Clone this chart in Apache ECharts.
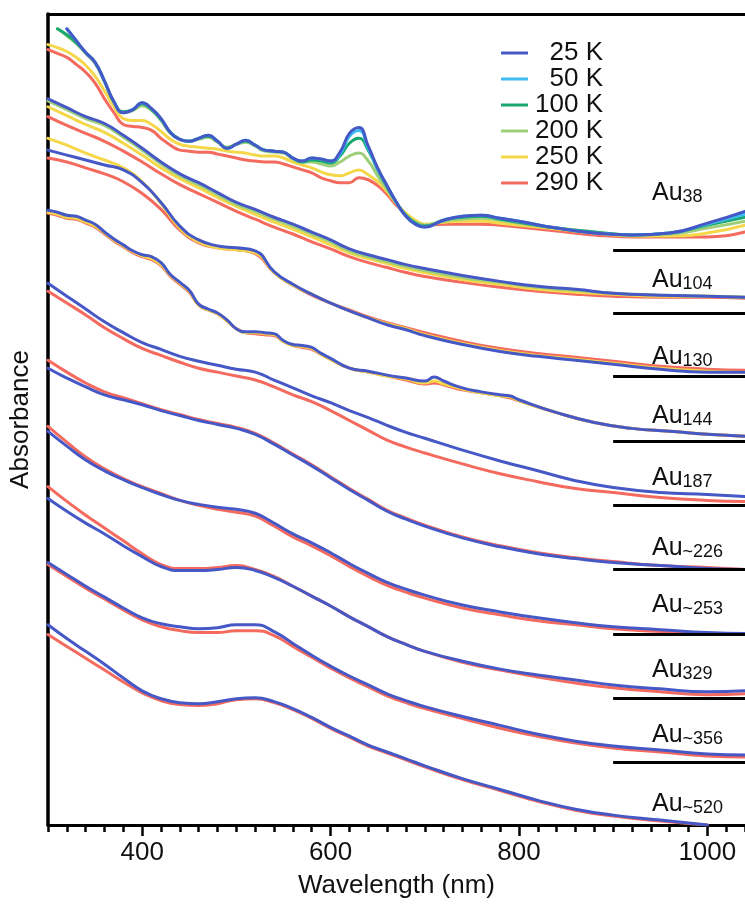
<!DOCTYPE html>
<html>
<head>
<meta charset="utf-8">
<script src="https://cdn.jsdelivr.net/npm/echarts@6/dist/echarts.min.js"></script>
<style>
  html, body { margin: 0; padding: 0; background: #fff; }
  #chart { width: 745px; height: 904px; }
</style>
</head>
<body>
<div id="chart"></div>
<script>
// wavelengths (nm)
var wlAu38 = [300,310,320,330,340,350,360,370,380,390,400,410,420,430,440,450,460,470,480,490,500,510,520,530,540,550,560,570,580,590,600,610,620,630,640,650,660,670,680,690,700,720,740,760,780,800,840,880,920,960,1000,1040];
var wlAu144 = [300,310,320,330,340,350,360,370,380,390,400,410,420,430,440,450,460,470,480,490,500,510,520,530,540,550,560,570,580,590,600,620,640,660,680,700,710,720,740,760,780,790,800,840,880,920,960,1000,1040];
var wlCommon = [300,320,340,360,380,400,420,440,460,480,500,520,540,560,580,600,620,640,660,680,700,740,780,820,860,900,950,1000,1040];

// absorbance (offset, a.u.)
var au38K25  = [null,null,8.07,7.95,7.83,7.73,7.54,7.33,7.22,7.25,7.32,7.26,7.16,7.02,6.95,6.93,6.96,6.99,6.93,6.86,6.90,6.94,6.89,6.84,6.83,6.82,6.76,6.73,6.76,6.75,6.73,6.82,7.01,7.07,6.88,6.66,6.48,6.31,6.17,6.09,6.06,6.13,6.17,6.18,6.15,6.12,6.05,6.00,5.98,6.00,6.10,6.22];
var au38K50  = [null,null,8.07,7.95,7.83,7.73,7.54,7.33,7.22,7.25,7.32,7.26,7.16,7.02,6.95,6.93,6.96,6.99,6.93,6.86,6.90,6.94,6.89,6.84,6.83,6.82,6.76,6.73,6.76,6.75,6.73,6.80,6.98,7.04,6.86,6.65,6.48,6.31,6.17,6.09,6.06,6.13,6.17,6.18,6.15,6.12,6.05,6.00,5.98,6.00,6.09,6.19];
var au38K100 = [null,8.07,8.01,7.93,7.83,7.73,7.54,7.33,7.23,7.25,7.31,7.25,7.15,7.02,6.95,6.93,6.96,6.98,6.93,6.86,6.90,6.93,6.89,6.84,6.83,6.82,6.76,6.72,6.74,6.73,6.71,6.78,6.91,6.96,6.84,6.64,6.47,6.31,6.18,6.10,6.07,6.13,6.16,6.17,6.14,6.11,6.05,6.01,5.98,6.00,6.08,6.16];
var au38K200 = [null,8.07,8.00,7.92,7.82,7.72,7.53,7.32,7.22,7.24,7.29,7.24,7.14,7.01,6.95,6.93,6.95,6.97,6.92,6.87,6.90,6.92,6.88,6.83,6.82,6.81,6.75,6.72,6.72,6.70,6.68,6.72,6.78,6.81,6.73,6.58,6.44,6.30,6.18,6.11,6.08,6.12,6.14,6.15,6.13,6.10,6.05,6.01,5.98,5.99,6.05,6.12];
var au38K250 = [7.91,7.88,7.84,7.78,7.70,7.59,7.44,7.28,7.16,7.14,7.14,7.10,7.03,6.95,6.90,6.88,6.87,6.86,6.85,6.83,6.82,6.81,6.79,6.78,6.78,6.76,6.72,6.69,6.66,6.62,6.59,6.58,6.61,6.64,6.59,6.52,6.42,6.30,6.20,6.13,6.09,6.11,6.12,6.12,6.10,6.08,6.04,6.00,5.97,5.97,6.00,6.08];
var au38K290 = [7.86,7.82,7.78,7.71,7.63,7.52,7.36,7.22,7.10,7.08,7.07,7.04,6.96,6.89,6.84,6.83,6.82,6.82,6.80,6.78,6.76,6.74,6.73,6.72,6.72,6.70,6.67,6.64,6.61,6.56,6.53,6.51,6.51,6.56,6.54,6.48,6.39,6.28,6.19,6.12,6.08,6.09,6.09,6.09,6.08,6.06,6.02,5.98,5.96,5.96,5.96,6.01];

var au104K25  = [7.36,7.27,7.18,7.11,6.99,6.86,6.72,6.60,6.51,6.41,6.31,6.24,6.16,6.09,6.01,5.93,5.84,5.78,5.73,5.68,5.64,5.57,5.51,5.46,5.43,5.39,5.37,5.36,5.35];
var au104K200 = [7.34,7.25,7.16,7.09,6.97,6.84,6.70,6.58,6.49,6.39,6.29,6.22,6.14,6.07,5.99,5.91,5.82,5.76,5.71,5.66,5.62,5.55,5.50,5.45,5.42,5.39,5.37,5.36,5.35];
var au104K250 = [7.28,7.19,7.10,7.02,6.91,6.79,6.66,6.55,6.46,6.36,6.27,6.19,6.11,6.04,5.96,5.88,5.80,5.74,5.69,5.64,5.60,5.53,5.48,5.43,5.40,5.38,5.36,5.36,5.35];
var au104K290 = [7.18,7.09,7.01,6.93,6.83,6.72,6.60,6.49,6.40,6.31,6.22,6.14,6.06,5.99,5.91,5.84,5.76,5.70,5.65,5.60,5.56,5.50,5.45,5.41,5.38,5.36,5.35,5.35,5.34];

var au130K25  = [6.84,6.79,6.74,6.69,6.64,6.51,6.31,6.07,5.93,5.87,5.85,5.82,5.61,5.48,5.38,5.29,5.21,5.14,5.07,5.02,4.96,4.87,4.80,4.75,4.71,4.67,4.62,4.59,4.59];
var au130K250 = [6.96,6.89,6.81,6.74,6.66,6.52,6.30,6.05,5.91,5.85,5.83,5.80,5.60,5.47,5.38,5.29,5.21,5.14,5.08,5.03,4.97,4.88,4.81,4.76,4.72,4.68,4.63,4.60,4.59];
var au130K290 = [6.76,6.72,6.66,6.60,6.52,6.40,6.24,6.03,5.90,5.85,5.83,5.79,5.60,5.47,5.37,5.29,5.22,5.15,5.09,5.04,4.99,4.90,4.83,4.78,4.74,4.70,4.65,4.62,4.61];

var au144K25  = [6.23,6.21,6.18,6.17,6.13,6.09,6.01,5.94,5.88,5.82,5.78,5.76,5.70,5.58,5.50,5.42,5.28,5.23,5.19,5.12,5.03,5.00,5.00,4.99,4.98,4.91,4.87,4.86,4.84,4.78,4.73,4.63,4.60,4.56,4.53,4.50,4.54,4.50,4.43,4.39,4.36,4.35,4.31,4.18,4.08,4.02,3.99,3.96,3.94];
var au144K250 = [6.21,6.19,6.16,6.15,6.11,6.07,6.00,5.93,5.87,5.81,5.77,5.74,5.68,5.57,5.49,5.41,5.27,5.22,5.18,5.11,5.03,4.99,4.99,4.98,4.97,4.90,4.86,4.85,4.83,4.77,4.72,4.63,4.59,4.55,4.52,4.48,4.50,4.47,4.42,4.38,4.35,4.34,4.30,4.18,4.08,4.02,3.99,3.96,3.94];
var au144K290 = [6.20,6.18,6.15,6.14,6.10,6.06,5.99,5.92,5.86,5.80,5.76,5.73,5.67,5.56,5.48,5.40,5.27,5.22,5.18,5.11,5.03,4.99,4.98,4.97,4.96,4.90,4.86,4.84,4.82,4.77,4.72,4.63,4.59,4.55,4.51,4.47,4.48,4.46,4.41,4.38,4.35,4.33,4.30,4.18,4.08,4.02,3.99,3.96,3.94];

var au187K25  = [5.49,5.36,5.23,5.10,4.99,4.89,4.82,4.75,4.70,4.66,4.62,4.59,4.51,4.43,4.35,4.28,4.20,4.13,4.05,3.98,3.92,3.80,3.69,3.59,3.49,3.42,3.37,3.35,3.33];
var au187K290 = [5.41,5.29,5.17,5.04,4.93,4.83,4.76,4.69,4.63,4.59,4.55,4.51,4.44,4.36,4.29,4.20,4.10,4.00,3.90,3.83,3.77,3.66,3.56,3.48,3.41,3.37,3.32,3.29,3.28];

var au226K25  = [4.63,4.53,4.44,4.36,4.31,4.26,4.20,4.15,4.10,4.06,4.02,3.96,3.86,3.75,3.64,3.52,3.40,3.29,3.18,3.10,3.03,2.91,2.82,2.75,2.70,2.66,2.63,2.60,2.59];
var au226K290 = [4.71,4.59,4.48,4.39,4.33,4.27,4.21,4.16,4.11,4.07,4.03,3.97,3.87,3.76,3.65,3.53,3.41,3.30,3.19,3.11,3.04,2.92,2.83,2.76,2.71,2.67,2.63,2.61,2.59];

var au253K25  = [3.99,3.84,3.70,3.59,3.50,3.42,3.35,3.29,3.25,3.22,3.20,3.16,3.06,2.95,2.86,2.76,2.65,2.55,2.46,2.39,2.33,2.23,2.16,2.10,2.05,2.01,1.98,1.95,1.94];
var au253K290 = [4.04,3.88,3.73,3.61,3.51,3.43,3.36,3.29,3.24,3.20,3.17,3.13,3.03,2.92,2.83,2.73,2.62,2.52,2.43,2.36,2.30,2.20,2.13,2.07,2.03,1.99,1.96,1.94,1.93];

var au329K25  = [3.31,3.18,3.06,2.95,2.83,2.72,2.62,2.58,2.58,2.59,2.61,2.58,2.51,2.42,2.32,2.22,2.11,2.01,1.91,1.83,1.76,1.66,1.58,1.52,1.47,1.42,1.38,1.35,1.36];
var au329K290 = [3.43,3.28,3.14,3.01,2.88,2.75,2.64,2.60,2.60,2.61,2.63,2.59,2.52,2.42,2.32,2.22,2.11,2.01,1.91,1.83,1.76,1.65,1.57,1.50,1.44,1.39,1.35,1.32,1.33];

var au356K25  = [2.66,2.54,2.42,2.31,2.20,2.10,2.04,2.01,1.99,2.00,2.03,2.03,1.96,1.84,1.72,1.61,1.51,1.42,1.33,1.26,1.20,1.10,1.01,0.92,0.85,0.80,0.76,0.72,0.71];
var au356K290 = [2.64,2.52,2.40,2.29,2.18,2.08,2.01,1.97,1.95,1.95,1.97,1.97,1.92,1.81,1.70,1.59,1.49,1.40,1.31,1.24,1.18,1.08,0.98,0.90,0.83,0.78,0.74,0.70,0.69];

var au520K25  = [2.03,1.89,1.76,1.63,1.49,1.36,1.28,1.24,1.23,1.25,1.28,1.29,1.25,1.18,1.09,0.99,0.90,0.81,0.74,0.67,0.60,0.47,0.36,0.25,0.16,0.10,0.05,0.00,null];
var au520K290 = [1.93,1.81,1.69,1.57,1.45,1.34,1.26,1.22,1.21,1.23,1.27,1.28,1.24,1.17,1.08,0.98,0.89,0.80,0.73,0.66,0.59,0.46,0.35,0.24,0.15,0.09,0.04,0.00,null];

// baseline marks and cluster names
var baseLines = [5.83, 5.19, 4.55, 3.89, 3.24, 2.59, 1.93, 1.28, 0.64];
var baseFrom = 900, baseTo = 1040;
var sizes = ['38', '104', '130', '144', '187', '~226', '~253', '329', '~356', '~520'];
var temps = ['25 K', '50 K', '100 K', '200 K', '250 K', '290 K'];
var majorTicks = [400, 600, 800, 1000];

// layout
var labelX = 652;
var labelY = [193, 280, 357, 416, 478, 548, 605, 670, 735, 804];
var colors = {
  '25 K': '#4658c6',
  '50 K': '#3cbcf0',
  '100 K': '#17a870',
  '200 K': '#9ed07a',
  '250 K': '#f5d74a',
  '290 K': '#f46a5e'
};
var font = 'Liberation Sans, Arial, sans-serif';

var minorTicks = [];
for (var t = 300; t <= 1040; t += 20) minorTicks.push(t);

function line(name, wl, vals) {
  return {
    type: 'line',
    name: name,
    xAxisIndex: 0,
    data: wl.map(function (w, i) { return [w, vals[i]]; }),
    symbol: 'none',
    smooth: 0.5,
    lineStyle: { width: 3, color: colors[name], cap: 'round', join: 'round' },
    itemStyle: { color: colors[name] },
    emphasis: { disabled: true }
  };
}

var series = [
  line('290 K', wlAu38, au38K290),
  line('250 K', wlAu38, au38K250),
  line('200 K', wlAu38, au38K200),
  line('100 K', wlAu38, au38K100),
  line('50 K', wlAu38, au38K50),
  line('25 K', wlAu38, au38K25),

  line('290 K', wlCommon, au104K290),
  line('250 K', wlCommon, au104K250),
  line('200 K', wlCommon, au104K200),
  line('25 K', wlCommon, au104K25),

  line('290 K', wlCommon, au130K290),
  line('250 K', wlCommon, au130K250),
  line('25 K', wlCommon, au130K25),

  line('290 K', wlAu144, au144K290),
  line('250 K', wlAu144, au144K250),
  line('25 K', wlAu144, au144K25),

  line('290 K', wlCommon, au187K290),
  line('25 K', wlCommon, au187K25),
  line('290 K', wlCommon, au226K290),
  line('25 K', wlCommon, au226K25),
  line('290 K', wlCommon, au253K290),
  line('25 K', wlCommon, au253K25),
  line('290 K', wlCommon, au329K290),
  line('25 K', wlCommon, au329K25),
  line('290 K', wlCommon, au356K290),
  line('25 K', wlCommon, au356K25),
  line('290 K', wlCommon, au520K290),
  line('25 K', wlCommon, au520K25)
];

series.push({
  type: 'line',
  name: 'baseline',
  data: [],
  markLine: {
    silent: true,
    symbol: 'none',
    label: { show: false },
    lineStyle: { color: '#000', width: 3, type: 'solid' },
    data: baseLines.map(function (v) {
      return [{ coord: [baseFrom, v] }, { coord: [baseTo, v] }];
    })
  }
});

var chart = echarts.init(document.getElementById('chart'));

chart.setOption({
  animation: false,
  backgroundColor: '#fff',
  textStyle: { fontFamily: font },
  grid: { left: 46, right: 0, top: 14, bottom: 68, containLabel: false },
  legend: {
    data: temps,
    orient: 'vertical',
    left: 496,
    top: 35,
    icon: 'rect',
    itemWidth: 27,
    itemHeight: 3,
    itemGap: 0,
    selectedMode: false,
    formatter: '{t|{name}}',
    textStyle: {
      fontFamily: font,
      fontSize: 26,
      color: '#111',
      rich: { t: { width: 70, align: 'right', fontSize: 26, lineHeight: 26, fontFamily: font, color: '#111' } }
    }
  },
  xAxis: [
    {
      type: 'value', min: 300, max: 1040, position: 'bottom',
      name: 'Wavelength (nm)', nameLocation: 'middle', nameGap: 48,
      nameTextStyle: { fontSize: 26, color: '#111', fontFamily: font },
      axisLine: { show: true, lineStyle: { color: '#000', width: 3 } },
      axisTick: { show: true, customValues: minorTicks, length: 7, lineStyle: { color: '#000', width: 2.5 } },
      axisLabel: {
        customValues: majorTicks, fontSize: 26, color: '#111', margin: 15, fontFamily: font,
        formatter: function (v) { return String(v); }
      },
      splitLine: { show: false }
    },
    {
      type: 'value', min: 300, max: 1040, position: 'bottom',
      axisLine: { show: false },
      axisTick: { show: true, customValues: majorTicks, length: 11, lineStyle: { color: '#000', width: 2.5 } },
      axisLabel: { show: false },
      splitLine: { show: false }
    },
    {
      type: 'value', min: 300, max: 1040, position: 'top',
      axisLine: { show: true, lineStyle: { color: '#000', width: 3 } },
      axisTick: { show: false },
      axisLabel: { show: false },
      splitLine: { show: false }
    }
  ],
  yAxis: {
    type: 'value', min: 0, max: 8.22,
    name: 'Absorbance', nameLocation: 'middle', nameGap: 14,
    nameTextStyle: { fontSize: 26, color: '#111', fontFamily: font },
    axisLine: { show: true, lineStyle: { color: '#000', width: 3.5 } },
    axisTick: { show: false },
    axisLabel: { show: false },
    splitLine: { show: false }
  },
  graphic: sizes.map(function (s, i) {
    return {
      type: 'text',
      x: labelX,
      y: labelY[i],
      z: 100,
      style: {
        text: '{a|Au}{b|' + s + '}',
        verticalAlign: 'middle',
        align: 'left',
        rich: {
          a: { fontSize: 25, lineHeight: 26, fontFamily: font, fill: '#111' },
          b: { fontSize: 18, lineHeight: 12, verticalAlign: 'bottom', fontFamily: font, fill: '#111' }
        }
      }
    };
  }),
  series: series
});
</script>
</body>
</html>
